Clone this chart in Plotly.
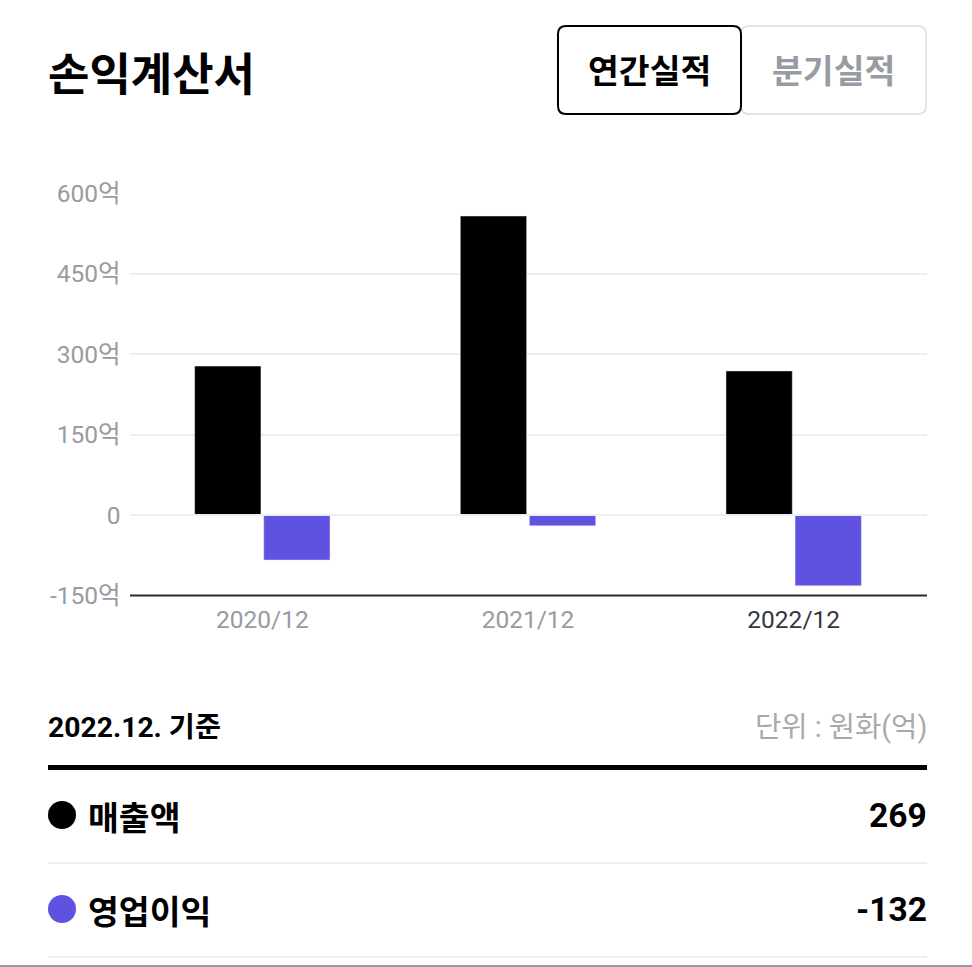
import plotly.graph_objects as go

W = 972
H = 967
KR = "Roboto, 'Noto Sans CJK KR', sans-serif"
KR_BOLD = "'Noto Sans CJK KR', sans-serif"

periods = ["2020/12", "2021/12", "2022/12"]
sales = [278, 558, 269]
op_profit = [-84, -20, -132]
y_ticks = [-150, 0, 150, 300, 450, 600]
y_labels = ["-150억", "0", "150억", "300억", "450억", "600억"]
x_labels = ["2020/12", "2021/12", "<span style='color:#333840'>2022/12</span>"]
row_names = ["매출액", "영업이익"]
row_values = ["269", "-132"]
row_colors = ["#000000", "#5f52e0"]

GRAY = "#979ba2"


def px(x):
    return x / W


def py(y):
    return 1 - y / H


def text(x, y, s, size, color="#000000", anchor="left", font=KR_BOLD, bold=False):
    if bold:
        s = "<b>" + s + "</b>"
    fig.add_annotation(x=px(x), y=py(y), xref="paper", yref="paper", text=s, showarrow=False,
                       xanchor=anchor, yanchor="middle", font=dict(size=size, color=color, family=font),
                       borderpad=0, borderwidth=0)


def hline(x0, x1, y, color, width):
    fig.add_shape(type="line", xref="paper", yref="paper", x0=px(x0), x1=px(x1), y0=py(y), y1=py(y),
                  line=dict(color=color, width=width), layer="above")


def round_box(x0, y0, x1, y1, r, color, width):
    p = (f"M {px(x0 + r)} {py(y0)} L {px(x1 - r)} {py(y0)} Q {px(x1)} {py(y0)} {px(x1)} {py(y0 + r)} "
         f"L {px(x1)} {py(y1 - r)} Q {px(x1)} {py(y1)} {px(x1 - r)} {py(y1)} "
         f"L {px(x0 + r)} {py(y1)} Q {px(x0)} {py(y1)} {px(x0)} {py(y1 - r)} "
         f"L {px(x0)} {py(y0 + r)} Q {px(x0)} {py(y0)} {px(x0 + r)} {py(y0)} Z")
    fig.add_shape(type="path", xref="paper", yref="paper", path=p, fillcolor="#ffffff",
                  line=dict(color=color, width=width), layer="above")


fig = go.Figure()
fig.add_trace(go.Bar(x=periods, y=sales, name=row_names[0], marker_color=row_colors[0]))
fig.add_trace(go.Bar(x=periods, y=op_profit, name=row_names[1], marker_color=row_colors[1]))

fig.update_layout(
    width=W, height=H, margin=dict(l=0, r=0, t=0, b=0), paper_bgcolor="white", plot_bgcolor="white",
    showlegend=False, barmode="group", bargap=0.48, bargroupgap=0.04,
    font=dict(family=KR),
    xaxis=dict(domain=[px(129.5), px(926.5)], tickvals=periods, ticktext=x_labels, ticks="", showgrid=False,
               zeroline=False, showline=False, automargin=False, anchor="y",
               tickfont=dict(size=24.5, color=GRAY), ticklabelstandoff=7),
    yaxis=dict(domain=[py(595.5), py(193.5)], range=[-150, 600], tickvals=y_ticks, ticktext=y_labels,
               ticks="", gridcolor="#eceef1", gridwidth=1.5, zeroline=False, showline=False, automargin=False,
               tickfont=dict(size=24.5, color=GRAY), ticklabelstandoff=8),
)

# thin zero line that sits over the bars, and the axis baseline
fig.add_shape(type="line", xref="paper", yref="y", x0=px(130), x1=px(927), y0=0, y1=0,
              line=dict(color="#eceef1", width=2), layer="above")
hline(130, 927, 595.5, "#2b2b2b", 2)

# header
text(48, 72, "손익계산서", 45, bold=True)
round_box(741, 26, 926, 114, 8, "#dcdde0", 1.5)
round_box(558, 26, 741, 114, 8, "#000000", 2)
text(649.5, 69, "연간실적", 33.5, anchor="center", bold=True)
text(833.5, 69, "분기실적", 33.5, color=GRAY, anchor="center", bold=True)

# table under the chart
text(48, 727, "2022.12. 기준", 28.3, bold=True, font=KR)
text(927, 727, "단위 : 원화(억)", 28.6, color="#a9a9a9", anchor="right", font=KR)
hline(48, 927, 767.5, "#000000", 5)
for i in range(2):
    yc = 815 + i * 94
    fig.add_shape(type="circle", xref="paper", yref="paper", x0=px(48), x1=px(76),
                  y0=py(yc - 14), y1=py(yc + 14), fillcolor=row_colors[i], line=dict(width=0), layer="above")
    text(88, yc, row_names[i], 33.5, bold=True)
    text(927, yc, row_values[i], 33.5, anchor="right", bold=True, font=KR)
    hline(48, 927, 863 + i * 94, "#eeeeee", 2)
hline(0, 972, 966, "#9a9a9a", 2)

fig.write_html("out.html", config=dict(displayModeBar=False),
               post_script="document.body.style.margin='0';document.body.style.overflow='hidden';")
